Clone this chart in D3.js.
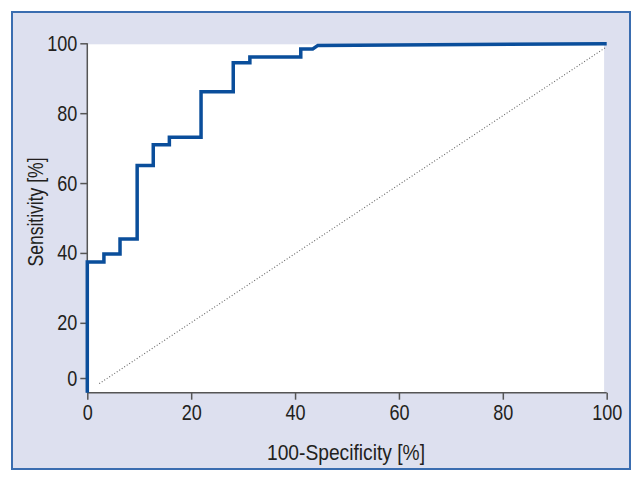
<!DOCTYPE html>
<html>
<head>
<meta charset="utf-8">
<script src="https://cdn.jsdelivr.net/npm/d3@7"></script>
<style>
  body { margin: 0; background: #fff; }
  text { font-family: "Liberation Sans", Arial, sans-serif; fill: #231f20; }
</style>
</head>
<body>
<div id="chart"></div>
<script>
// ROC curve points (100-specificity, sensitivity)
var fpr = [0, 0, 3.2, 3.2, 6.3, 6.3, 9.6, 9.6, 12.7, 12.7, 15.8, 15.8, 21.9, 21.9, 28.1, 28.1, 31.3, 31.3, 41.1, 41.1, 43.4, 44.4, 100];
var sens = [0, 37.4, 37.4, 39.7, 39.7, 44.0, 44.0, 65.0, 65.0, 71.0, 71.0, 73.1, 73.1, 86.1, 86.1, 94.4, 94.4, 96.1, 96.1, 98.4, 98.4, 99.4, 99.9];
// reference diagonal
var diagX = [2.3, 100];
var diagY = [2.6, 99];
var xTicks = [0, 20, 40, 60, 80, 100];
var yTicks = [4.2, 20, 40, 60, 80, 100];
var yTickLabels = ["0", "20", "40", "60", "80", "100"];

var w = 643, h = 483;
var mLeft = 87.3, mRight = 606.7, mTop = 43.3, mBottom = 392.7;
var squeeze = 0.82;

var svg = d3.select("#chart").append("svg")
  .attr("width", w)
  .attr("height", h);

// outer panel
svg.append("rect")
  .attr("x", 12).attr("y", 12)
  .attr("width", 618).attr("height", 457)
  .attr("fill", "#dde0ef")
  .attr("stroke", "#3a6db0")
  .attr("stroke-width", 2);

var x = d3.scaleLinear().domain([0, 100]).range([mLeft, mRight]);
var y = d3.scaleLinear().domain([0, 100]).range([mBottom, mTop]);

// plot area
svg.append("rect")
  .attr("x", x(0))
  .attr("y", y(100) + 1)
  .attr("width", x(99.5) - x(0))
  .attr("height", y(0) - y(100) - 1)
  .attr("fill", "#fff");

// diagonal
svg.append("line")
  .attr("x1", x(diagX[0])).attr("y1", y(diagY[0]))
  .attr("x2", x(diagX[1])).attr("y2", y(diagY[1]))
  .attr("stroke", "#666")
  .attr("stroke-width", 1.1)
  .attr("stroke-dasharray", "1,2");

// axes
var xAxis = d3.axisBottom(x).tickValues(xTicks).tickSize(7).tickPadding(5);
var gx = svg.append("g")
  .attr("transform", "translate(0," + mBottom + ")")
  .call(xAxis);

var yAxis = d3.axisLeft(y).tickValues(yTicks).tickSize(7).tickPadding(3)
  .tickFormat(function(d, i) { return yTickLabels[i]; });
var gy = svg.append("g")
  .attr("transform", "translate(" + mLeft + ",0)")
  .call(yAxis);

[gx, gy].forEach(function(g) {
  g.select(".domain").attr("stroke", "#555").attr("stroke-width", 1.5);
  g.selectAll(".tick line").attr("stroke", "#555").attr("stroke-width", 1.5);
  g.selectAll(".tick text")
    .style("font-size", "22px")
    .attr("fill", "#231f20")
    .attr("x", function() { return (+d3.select(this).attr("x") || 0) / squeeze; })
    .attr("transform", "scale(" + squeeze + ",1)");
});
gx.select(".domain").attr("d", "M" + x(0) + ",0H" + x(100));
gy.select(".domain").attr("d", "M0," + y(100) + "V" + y(0));

// ROC curve
var pts = fpr.map(function(d, i) { return [d, sens[i]]; });
var line = d3.line()
  .x(function(d) { return x(d[0]); })
  .y(function(d) { return y(d[1]); });

svg.append("path")
  .datum(pts)
  .attr("fill", "none")
  .attr("stroke", "#0a4e9b")
  .attr("stroke-width", 3.5)
  .attr("stroke-linejoin", "miter")
  .attr("d", line);

// titles
svg.append("text")
  .attr("x", (mLeft + mRight) / 2 - 1)
  .attr("y", 460)
  .attr("text-anchor", "middle")
  .attr("textLength", 158)
  .attr("lengthAdjust", "spacingAndGlyphs")
  .style("font-size", "22px")
  .text("100-Specificity [%]");

svg.append("text")
  .attr("transform", "translate(43," + 212 + ") rotate(-90)")
  .attr("text-anchor", "middle")
  .attr("textLength", 109)
  .attr("lengthAdjust", "spacingAndGlyphs")
  .style("font-size", "22px")
  .text("Sensitivity [%]");
</script>
</body>
</html>
